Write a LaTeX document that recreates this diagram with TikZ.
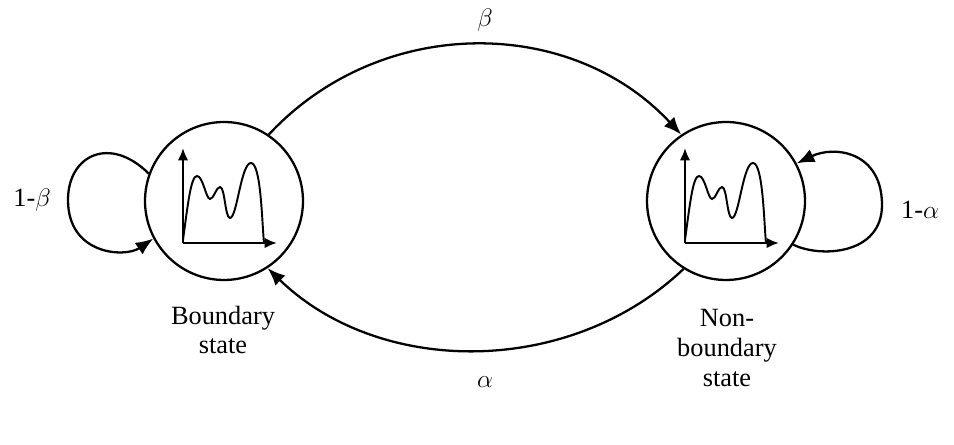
\documentclass[tikz,border=0pt]{standalone}
\usepackage{fontspec}
\setmainfont{Liberation Serif}
\usetikzlibrary{arrows.meta}
\tikzset{
  state/.style={shape=circle,draw=black,line width=1.3pt,minimum size=3.16cm,inner sep=0pt},
  trans/.style={line width=1.3pt,-{Latex[length=10pt,width=8pt]}},
  plot/.pic={
    \draw[line width=1.3pt,-{Latex[length=7pt,width=6pt]}] (0,0) -- (0,-95);
    \draw[line width=1.3pt,-{Latex[length=7pt,width=6pt]}] (0,0) -- (94,0);
    \draw[line width=1.1pt] (0,-3) .. controls (5,-40) and (8,-67) .. (14,-67)
      .. controls (20,-67) and (23,-44) .. (27,-44)
      .. controls (31,-44) and (33,-56) .. (37,-56)
      .. controls (42,-56) and (42,-25) .. (47,-25)
      .. controls (54,-25) and (58,-80) .. (68,-80)
      .. controls (78,-80) and (79,-20) .. (81,0);
  }
}
\begin{document}
\begin{tikzpicture}[x=0.02cm,y=-0.02cm,font=\fontsize{15}{17}\selectfont]
	\useasboundingbox (0,0) rectangle (954,445);
	\node[state] (L) at (224,201) {};
	\node[state] (R) at (726,201) {};
	\pic at (183,243) {plot};
	\pic at (685,243) {plot};

	\draw[trans] (L.56) .. controls (380,15) and (570,15) .. (R.124);
	\draw[trans] (R.238) .. controls (570,377) and (380,377) .. (L.303);
	\draw[trans] (L.160) .. controls (110,135) and (68,155) .. (68,200)
	  .. controls (68,255) and (125,258) .. (L.208);
	\draw[trans] (R.-33) .. controls (820,258) and (882,255) .. (882,205)
	  .. controls (882,152) and (835,145) .. (R.28);

	\node (beta) at (485,20) {$\beta$};
	\node (alpha) at (485,382) {$\alpha$};
	\node (lb) at (32,200) {1-$\beta$};
	\node (la) at (920,210) {1-$\alpha$};
	\node[align=center] (bs) at (223,330) {Boundary\\state};
	\node[align=center] (nbs) at (727,348) {Non-\\boundary\\state};
\end{tikzpicture}
\end{document}
